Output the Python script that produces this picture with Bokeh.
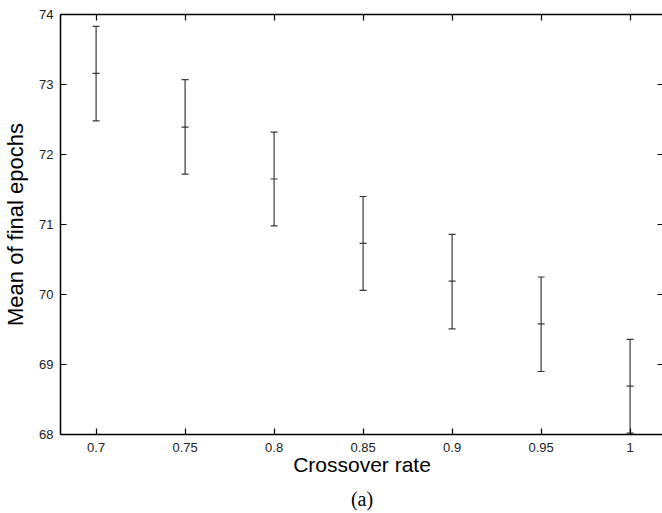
from bokeh.plotting import figure
from bokeh.models import (ColumnDataSource, Whisker, TeeHead, LinearAxis, FixedTicker,
                          Range1d, Title)
from bokeh.embed import file_html
from bokeh.resources import INLINE

# Data
crossover = [0.7, 0.75, 0.8, 0.85, 0.9, 0.95, 1.0]
mean_epochs = [73.16, 72.39, 71.65, 70.73, 70.19, 69.58, 68.69]
upper_err = [73.83, 73.07, 72.32, 71.40, 70.86, 70.25, 69.36]
lower_err = [72.48, 71.72, 70.98, 70.06, 69.51, 68.90, 68.02]
x_ticks = [0.7, 0.75, 0.8, 0.85, 0.9, 0.95, 1.0]
x_tick_labels = {0.7: "0.7", 0.75: "0.75", 0.8: "0.8", 0.85: "0.85", 0.9: "0.9", 0.95: "0.95", 1.0: "1"}
y_ticks = [68, 69, 70, 71, 72, 73, 74]

src = ColumnDataSource(dict(x=crossover, m=mean_epochs, up=upper_err, lo=lower_err))

FONT = "Liberation Sans"
p = figure(output_backend="svg", toolbar_location=None,
           frame_width=603, frame_height=420,
           x_range=Range1d(0.68, 1.01876), y_range=Range1d(68, 74),
           min_border_left=40, min_border_right=0, min_border_top=14, min_border_bottom=4,
           x_axis_label="Crossover rate", y_axis_label="Mean of final epochs")
p.outline_line_color = None
p.grid.visible = False
p.background_fill_color = "white"
p.border_fill_color = "white"

for ax in (p.xaxis[0], p.yaxis[0]):
    ax.axis_line_width = 1.5
    ax.axis_line_color = "black"
    ax.major_tick_in = 6
    ax.major_tick_out = 0
    ax.major_tick_line_width = 1.2
    ax.major_tick_line_color = "black"
    ax.minor_tick_line_color = None
    ax.major_label_text_font = FONT
    ax.major_label_text_font_size = "13px"
    ax.major_label_text_color = "#222222"
    ax.axis_label_text_font = FONT
    ax.axis_label_text_font_style = "normal"
    ax.axis_label_text_color = "black"

p.xaxis[0].ticker = FixedTicker(ticks=x_ticks)
p.xaxis[0].major_label_overrides = x_tick_labels
p.xaxis[0].major_label_standoff = 8
p.xaxis[0].axis_label_standoff = -2
p.xaxis[0].axis_label_text_font_size = "21px"
p.yaxis[0].ticker = FixedTicker(ticks=y_ticks)
p.yaxis[0].major_label_standoff = 7
p.yaxis[0].axis_label_standoff = 8
p.yaxis[0].axis_label_text_font_size = "22px"

top = LinearAxis(ticker=FixedTicker(ticks=x_ticks), major_label_text_font_size="1px",
                 major_label_text_color=None,
                 major_label_standoff=0, major_tick_in=6, major_tick_out=0,
                 minor_tick_line_color=None, axis_line_width=1.5, axis_line_color="black",
                 major_tick_line_width=1.2)
p.add_layout(top, "above")
right = LinearAxis(ticker=FixedTicker(ticks=y_ticks), major_label_text_font_size="1px",
                   major_label_text_color=None,
                   major_label_standoff=0, major_tick_in=6, major_tick_out=0,
                   minor_tick_line_color=None, axis_line_color=None,
                   major_tick_line_width=1.2)
p.add_layout(right, "right")

bar_color = "#3a3a3a"
w = Whisker(source=src, base="x", upper="up", lower="lo", dimension="height",
            line_color=bar_color, line_width=1.2,
            upper_head=TeeHead(size=7, line_color=bar_color, line_width=1.2),
            lower_head=TeeHead(size=7, line_color=bar_color, line_width=1.2))
p.add_layout(w)
p.scatter("x", "m", source=src, marker="dash", size=7, line_color=bar_color, line_width=1.2)

p.add_layout(Title(text="(a)", align="center", text_font="Liberation Serif",
                   text_font_size="20px", text_font_style="normal", text_color="black",
                   standoff=15), "below")

open("out.html", "w").write(file_html(p, INLINE))
